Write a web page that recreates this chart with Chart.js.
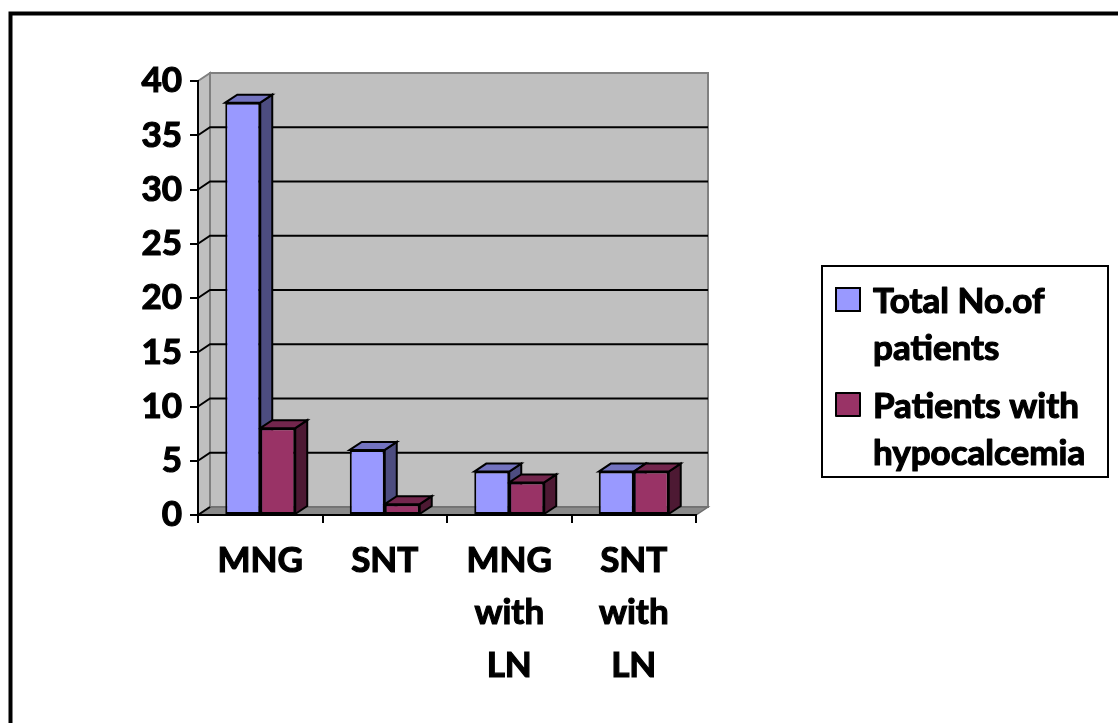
<!DOCTYPE html>
<html>
<head>
<meta charset="utf-8">
<title>Hypocalcemia by diagnosis</title>
<script src="https://cdn.jsdelivr.net/npm/chart.js@4.4.1/dist/chart.umd.min.js"></script>
<style>
  html, body { margin: 0; padding: 0; background: #ffffff; overflow: hidden; }
  #wrap { position: relative; width: 1118px; height: 723px; }
  canvas { display: block; }
</style>
</head>
<body>
<div id="wrap"><canvas id="chart" width="1118" height="723"></canvas></div>
<script>
// Categories (multi-line tick labels)
const categories = [['MNG'], ['SNT'], ['MNG', 'with', 'LN'], ['SNT', 'with', 'LN']];

// Series values
const totalPatients = [38, 6, 4, 4];
const hypocalcemiaPatients = [8, 1, 3, 4];

// Series names
const seriesNames = ['Total No.of patients', 'Patients with hypocalcemia'];

// Value axis ticks
const yTickValues = [0, 5, 10, 15, 20, 25, 30, 35, 40];

const FONT = { family: 'Lato', weight: 'bold', size: 35, lineHeight: 1.5 };
const TEXT_STROKE = 1.2; // thickens the bold glyphs slightly

// Face colours for the pseudo-3D columns: front, side, top
const faceColors = [
  { front: '#9999FF', side: '#4D4D80', top: '#7373BF' },
  { front: '#993366', side: '#4D1933', top: '#73264D' }
];

// Depth offset of walls and columns
const DEPTH = { x: 12, y: -8 };

function poly(ctx, pts, fill, stroke, lw) {
  ctx.beginPath();
  ctx.moveTo(pts[0][0], pts[0][1]);
  for (let i = 1; i < pts.length; i++) ctx.lineTo(pts[i][0], pts[i][1]);
  ctx.closePath();
  if (fill) { ctx.fillStyle = fill; ctx.fill(); }
  if (stroke) { ctx.strokeStyle = stroke; ctx.lineWidth = lw || 1; ctx.stroke(); }
}

// Back wall, side wall, floor and gridlines
const wallsPlugin = {
  id: 'walls',
  beforeDraw(chart) {
    const { ctx, chartArea } = chart;
    const ys = chart.scales.y;
    const L = chartArea.left, R = chartArea.right;
    const T = ys.getPixelForValue(yTickValues[yTickValues.length - 1]);
    const B = ys.getPixelForValue(0);
    const dx = DEPTH.x, dy = DEPTH.y;
    ctx.save();
    // outer frame
    ctx.strokeStyle = '#000';
    ctx.lineWidth = 4;
    ctx.strokeRect(10.5, 13.5, 1300, 900);
    ctx.lineJoin = 'miter';
    // back wall
    poly(ctx, [[L + dx, T + dy], [R + dx, T + dy], [R + dx, B + dy], [L + dx, B + dy]], '#C0C0C0', '#808080', 2);
    // side wall
    poly(ctx, [[L, T], [L + dx, T + dy], [L + dx, B + dy], [L, B]], '#C0C0C0', '#808080', 2);
    // floor
    poly(ctx, [[L, B], [L + dx, B + dy], [R + dx, B + dy], [R, B]], '#8A8A8A', '#6E6E6E', 1.5);
    // gridlines across side wall and back wall
    ctx.strokeStyle = '#000';
    ctx.lineWidth = 2;
    yTickValues.forEach(v => {
      if (v === 0 || v === yTickValues[yTickValues.length - 1]) return;
      const y = ys.getPixelForValue(v);
      ctx.beginPath();
      ctx.moveTo(L, y);
      ctx.lineTo(L + dx, y + dy);
      ctx.lineTo(R + dx, y + dy);
      ctx.stroke();
    });
    // floor front diagonal at the origin
    ctx.beginPath();
    ctx.moveTo(L, B);
    ctx.lineTo(L + dx, B + dy);
    ctx.stroke();
    ctx.restore();
  },
  // side and top faces of each column, drawn behind the fronts
  beforeDatasetsDraw(chart) {
    const { ctx } = chart;
    const dx = DEPTH.x, dy = DEPTH.y;
    ctx.save();
    ctx.lineJoin = 'miter';
    const n = chart.data.labels.length;
    for (let i = 0; i < n; i++) {
      chart.data.datasets.forEach((ds, d) => {
        const el = chart.getDatasetMeta(d).data[i];
        if (!el) return;
        const left = el.x - el.width / 2, right = el.x + el.width / 2;
        const top = el.y, base = el.base;
        const c = faceColors[d];
        poly(ctx, [[right, top], [right + dx, top + dy], [right + dx, base + dy], [right, base]], c.side, '#000', 2);
        poly(ctx, [[left, top], [left + dx, top + dy], [right + dx, top + dy], [right, top]], c.top, '#000', 2);
      });
    }
    ctx.restore();
  },
  // legend box with wrapped series names
  afterDraw(chart) {
    const { ctx } = chart;
    ctx.save();
    const box = { x: 822, y: 266, w: 286, h: 211 };
    ctx.fillStyle = '#fff';
    ctx.fillRect(box.x, box.y, box.w, box.h);
    ctx.strokeStyle = '#000';
    ctx.lineWidth = 2;
    ctx.strokeRect(box.x, box.y, box.w, box.h);
    ctx.font = 'bold 35px Lato';
    ctx.textBaseline = 'alphabetic';
    ctx.textAlign = 'left';
    const textX = 873, maxW = 232;
    const baselines = [[313, 360], [418, 465]];
    chart.data.datasets.forEach((ds, d) => {
      const words = ds.label.split(' ');
      const lines = [];
      let cur = '';
      words.forEach(w => {
        const t = cur ? cur + ' ' + w : w;
        if (cur && ctx.measureText(t).width > maxW) { lines.push(cur); cur = w; }
        else cur = t;
      });
      if (cur) lines.push(cur);
      const bl = baselines[d];
      // swatch
      ctx.fillStyle = ds.backgroundColor;
      ctx.fillRect(836, bl[0] - 25, 24, 23);
      ctx.strokeStyle = '#000';
      ctx.lineWidth = 2;
      ctx.strokeRect(836, bl[0] - 25, 24, 23);
      ctx.fillStyle = '#000';
      ctx.lineWidth = TEXT_STROKE;
      ctx.lineJoin = 'round';
      lines.forEach((ln, k) => {
        const y = k < bl.length ? bl[k] : bl[bl.length - 1] + (k - bl.length + 1) * 47;
        ctx.fillText(ln, textX, y);
        ctx.strokeText(ln, textX, y);
      });
    });
    ctx.restore();
  }
};

function build() {
  new Chart(document.getElementById('chart'), {
    type: 'bar',
    data: {
      labels: categories,
      datasets: [
        {
          label: seriesNames[0],
          data: totalPatients,
          backgroundColor: faceColors[0].front,
          borderColor: '#000',
          borderWidth: 2,
          borderSkipped: false
        },
        {
          label: seriesNames[1],
          data: hypocalcemiaPatients,
          backgroundColor: faceColors[1].front,
          borderColor: '#000',
          borderWidth: 2,
          borderSkipped: false
        }
      ]
    },
    options: {
      responsive: false,
      devicePixelRatio: 1,
      animation: false,
      events: [],
      layout: { padding: { left: 0, right: 422, top: 81, bottom: 8 } },
      datasets: { bar: { barPercentage: 1, categoryPercentage: 0.562 } },
      plugins: { legend: { display: false }, tooltip: { enabled: false } },
      scales: {
        x: {
          afterFit(scale) { scale.height = 200; },
          grid: { offset: true, drawOnChartArea: false, drawTicks: true, tickLength: 8, color: '#000', lineWidth: 2 },
          border: { display: true, color: '#000', width: 2 },
          ticks: {
            font: FONT, color: '#000', padding: 11, maxRotation: 0, autoSkip: false,
            textStrokeColor: '#000', textStrokeWidth: TEXT_STROKE
          }
        },
        y: {
          min: 0,
          max: 40,
          afterFit(scale) { scale.width = 198; },
          afterBuildTicks(scale) { scale.ticks = yTickValues.map(v => ({ value: v })); },
          grid: { drawOnChartArea: false, drawTicks: true, tickLength: 8, color: '#000', lineWidth: 2 },
          border: { display: true, color: '#000', width: 2 },
          ticks: {
            font: { family: 'Lato', weight: 'bold', size: 35 }, color: '#000', padding: 8,
            textStrokeColor: '#000', textStrokeWidth: TEXT_STROKE
          }
        }
      }
    },
    plugins: [wallsPlugin]
  });
}

if (document.fonts && document.fonts.load) {
  document.fonts.load('bold 35px Lato').then(build, build);
} else {
  build();
}
</script>
</body>
</html>
